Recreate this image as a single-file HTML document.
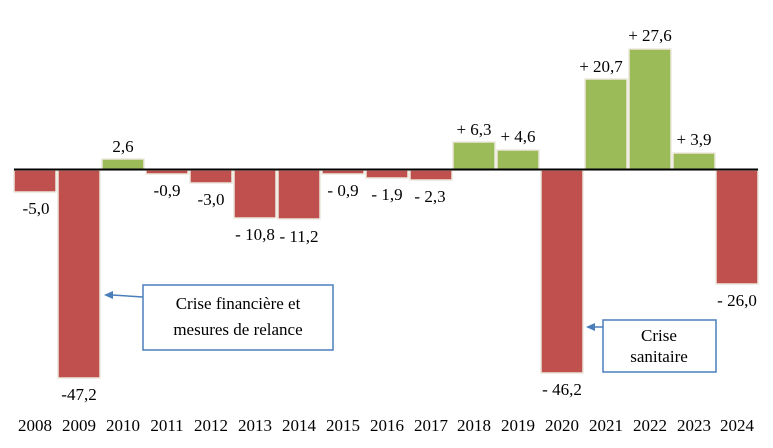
<!DOCTYPE html>
<html><head><meta charset="utf-8"><style>body{margin:0;background:#fff}svg{display:block}text{font-family:"Liberation Serif",serif;font-size:17px;fill:#000}</style></head><body>
<svg width="773" height="448" viewBox="0 0 773 448">
<g stroke="#ece8dc" stroke-width="1.5">
<rect x="14" y="170" width="42" height="22" fill="#c0504d"/>
<rect x="58" y="170" width="42" height="208" fill="#c0504d"/>
<rect x="102" y="159" width="42" height="11" fill="#9bbb59"/>
<rect x="146" y="170" width="42" height="4" fill="#c0504d"/>
<rect x="190" y="170" width="42" height="13" fill="#c0504d"/>
<rect x="234" y="170" width="42" height="48" fill="#c0504d"/>
<rect x="278" y="170" width="42" height="49" fill="#c0504d"/>
<rect x="322" y="170" width="42" height="4" fill="#c0504d"/>
<rect x="366" y="170" width="42" height="8" fill="#c0504d"/>
<rect x="410" y="170" width="42" height="10" fill="#c0504d"/>
<rect x="453" y="142" width="42" height="28" fill="#9bbb59"/>
<rect x="497" y="150" width="42" height="20" fill="#9bbb59"/>
<rect x="541" y="170" width="42" height="203" fill="#c0504d"/>
<rect x="585" y="79" width="42" height="91" fill="#9bbb59"/>
<rect x="629" y="49" width="42" height="121" fill="#9bbb59"/>
<rect x="673" y="153" width="42" height="17" fill="#9bbb59"/>
<rect x="716" y="170" width="42" height="114" fill="#c0504d"/>
</g>
<line x1="14" y1="169.5" x2="758" y2="169.5" stroke="#000" stroke-width="2"/>
<g text-anchor="middle">
<text x="36" y="214">-5,0</text>
<text x="79" y="400">-47,2</text>
<text x="123" y="152">2,6</text>
<text x="167" y="196">-0,9</text>
<text x="211" y="205">-3,0</text>
<text x="255" y="240">- 10,8</text>
<text x="299" y="242">- 11,2</text>
<text x="343" y="196">- 0,9</text>
<text x="387" y="200">- 1,9</text>
<text x="430" y="202">- 2,3</text>
<text x="474" y="135">+ 6,3</text>
<text x="518" y="142">+ 4,6</text>
<text x="562" y="395">- 46,2</text>
<text x="601" y="72">+ 20,7</text>
<text x="650" y="41">+ 27,6</text>
<text x="694" y="145">+ 3,9</text>
<text x="737" y="306">- 26,0</text>
</g>
<g text-anchor="middle">
<text x="35" y="431">2008</text><text x="79" y="431">2009</text><text x="123" y="431">2010</text><text x="167" y="431">2011</text><text x="211" y="431">2012</text><text x="255" y="431">2013</text><text x="299" y="431">2014</text><text x="343" y="431">2015</text><text x="387" y="431">2016</text><text x="431" y="431">2017</text><text x="474" y="431">2018</text><text x="518" y="431">2019</text><text x="562" y="431">2020</text><text x="606" y="431">2021</text><text x="650" y="431">2022</text><text x="694" y="431">2023</text><text x="737" y="431">2024</text>
</g>
<rect x="143" y="285" width="190" height="65" fill="#fff" stroke="#4a7ebb" stroke-width="1.5"/>
<text x="238" y="309" text-anchor="middle">Crise financière et</text>
<text x="238" y="335" text-anchor="middle">mesures de relance</text>
<line x1="143" y1="297" x2="112" y2="295" stroke="#4a7ebb" stroke-width="1.5"/>
<polygon points="104,295 113,291 113,299" fill="#4a7ebb"/>
<rect x="603" y="320" width="113" height="52" fill="#fff" stroke="#4a7ebb" stroke-width="1.5"/>
<text x="659" y="341" text-anchor="middle">Crise</text>
<text x="659" y="362" text-anchor="middle">sanitaire</text>
<line x1="603" y1="327" x2="594" y2="327" stroke="#4a7ebb" stroke-width="1.5"/>
<polygon points="586,327 595,323 595,331" fill="#4a7ebb"/>
</svg>
</body></html>
